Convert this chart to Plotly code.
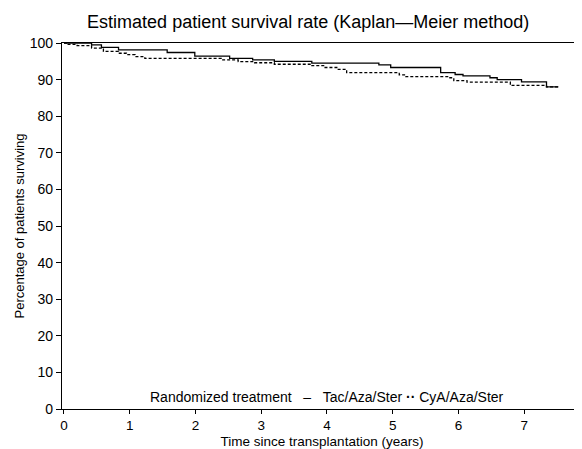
import plotly.graph_objects as go

# Kaplan-Meier step estimates (time in years, survival %)
tac_time = [0, 0.42, 0.57, 0.83, 1.57, 1.99, 2.52, 2.87, 3.20, 3.77, 4.79, 4.97,
            5.73, 5.95, 6.07, 6.48, 6.59, 6.96, 7.34, 7.52]
tac_surv = [100, 99.5, 98.8, 98.1, 97.4, 96.4, 95.8, 95.4, 95.0, 94.5, 94.0, 93.3,
            91.9, 91.4, 91.0, 90.5, 90.0, 89.4, 88.0, 88.0]

cya_time = [0, 0.05, 0.20, 0.42, 0.60, 0.83, 0.95, 1.08, 1.23, 2.39, 2.65, 2.90,
            3.20, 3.76, 3.95, 4.15, 4.30, 5.10, 5.20, 5.85, 5.93, 6.13, 6.79, 7.34, 7.52]
cya_surv = [100, 99.6, 99.3, 98.6, 97.7, 97.2, 96.8, 96.3, 95.8, 95.4, 94.9, 94.6,
            94.2, 93.8, 93.3, 92.8, 91.9, 91.3, 90.8, 90.5, 89.7, 89.3, 88.4, 88.0, 88.0]

x_ticks = [0, 1, 2, 3, 4, 5, 6, 7]
y_ticks = [0, 10, 20, 30, 40, 50, 60, 70, 80, 90, 100]

legend_title = "Randomized treatment"
series_names = ["Tac/Aza/Ster", "CyA/Aza/Ster"]

FONT = "Liberation Sans, Arial, sans-serif"

fig = go.Figure()
fig.add_trace(go.Scatter(x=tac_time, y=tac_surv, mode="lines", line_shape="hv",
                         name=series_names[0],
                         line=dict(color="black", width=1.3)))
fig.add_trace(go.Scatter(x=cya_time, y=cya_surv, mode="lines", line_shape="hv",
                         name=series_names[1],
                         line=dict(color="black", width=1.3, dash="3px,2px")))

legend_text = (f"{legend_title}&nbsp;&nbsp;&nbsp;"
               f"\u2013&nbsp;&nbsp;&nbsp;{series_names[0]}"
               f"&nbsp;<b>\u00b7\u00b7</b>&nbsp;{series_names[1]}")

fig.update_layout(
    width=574, height=441,
    margin=dict(l=54, r=0, t=35, b=40),
    paper_bgcolor="white", plot_bgcolor="white",
    font=dict(family=FONT, size=14, color="black"),
    title=dict(text="Estimated patient survival rate (Kaplan\u2014Meier method)",
               x=0.523, xanchor="center", y=0.968, yanchor="middle",
               font=dict(size=18, family=FONT, color="black")),
    showlegend=False,
    annotations=[dict(text=legend_text, xref="paper", yref="paper",
                      x=0.51, y=0.033, xanchor="center", yanchor="middle",
                      showarrow=False, font=dict(size=14, family=FONT, color="black"))],
    xaxis=dict(range=[-0.03, 7.88], tickvals=x_ticks, showgrid=False, zeroline=False,
               showline=True, linecolor="black", linewidth=1.3, mirror=True,
               ticks="outside", ticklen=4, tickcolor="black", automargin=False,
               tickfont=dict(size=13.5),
               title=dict(text="Time since transplantation (years)", standoff=5,
                          font=dict(size=13.5))),
    yaxis=dict(range=[0, 100], tickvals=y_ticks, showgrid=False, zeroline=False,
               showline=True, linecolor="black", linewidth=1.3,
               ticks="outside", ticklen=5, tickcolor="black", automargin=False,
               tickfont=dict(size=14),
               title=dict(text="Percentage of patients surviving", standoff=2,
                          font=dict(size=13))),
)

fig.write_html("out.html")
